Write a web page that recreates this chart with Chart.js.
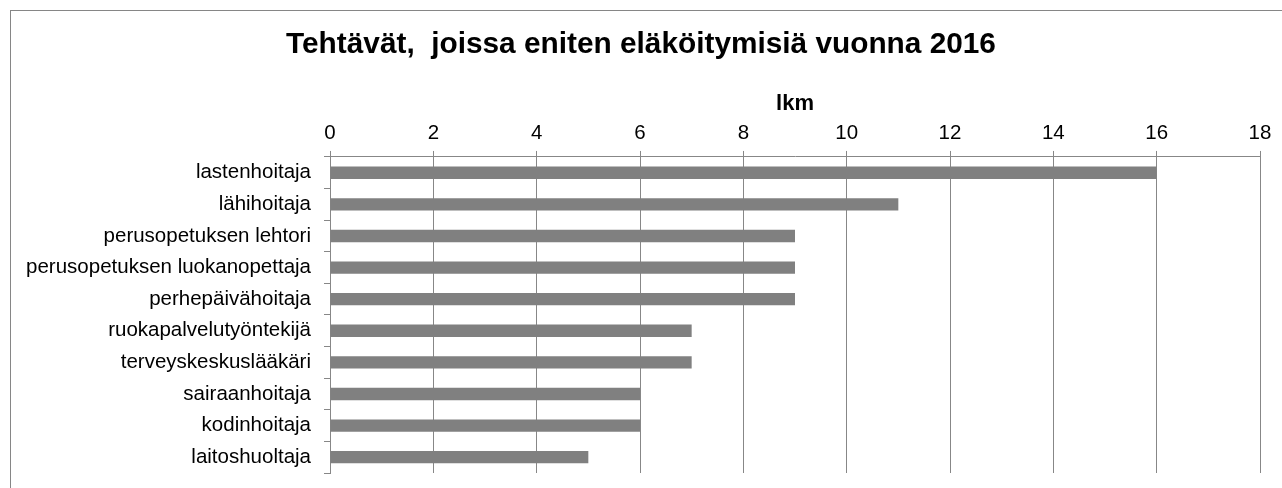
<!DOCTYPE html>
<html>
<head>
<meta charset="utf-8">
<script src="https://cdn.jsdelivr.net/npm/chart.js@4/dist/chart.umd.min.js"></script>
<style>
  html, body { margin: 0; padding: 0; background: #fff; }
  #wrap { position: relative; width: 1282px; height: 488px; overflow: hidden; }
  #frame { position: absolute; left: 10px; top: 10px; width: 1300px; height: 500px; border: 1px solid #868686; box-sizing: border-box; }
  canvas { position: absolute; left: 0; top: 0; }
</style>
</head>
<body>
<div id="wrap">
  <div id="frame"></div>
  <canvas id="c" width="1282" height="488"></canvas>
</div>
<script>
const categories = [
  "lastenhoitaja",
  "lähihoitaja",
  "perusopetuksen lehtori",
  "perusopetuksen luokanopettaja",
  "perhepäivähoitaja",
  "ruokapalvelutyöntekijä",
  "terveyskeskuslääkäri",
  "sairaanhoitaja",
  "kodinhoitaja",
  "laitoshuoltaja"
];
const values = [16, 11, 9, 9, 9, 7, 7, 6, 6, 5];
const titleText = "Tehtävät,  joissa eniten eläköitymisiä vuonna 2016";
const axisTitle = "lkm";
const xMin = 0, xMax = 18, xStep = 2;

const FONT = "Liberation Sans, Arial, sans-serif";
const gridColor = "#878787";
new Chart(document.getElementById("c"), {
  type: "bar",
  data: {
    labels: categories,
    datasets: [{
      data: values,
      backgroundColor: "#808080",
      borderWidth: 0,
      categoryPercentage: 1,
      barPercentage: 0.39
    }]
  },
  options: {
    indexAxis: "y",
    responsive: false,
    animation: false,
    layout: { padding: { top: 0, left: 22, right: 22, bottom: 15 } },
    plugins: {
      legend: { display: false },
      tooltip: { enabled: false },
      title: {
        display: true,
        text: titleText,
        color: "#000",
        font: { family: FONT, size: 29.8, weight: "bold" },
        padding: { top: 26.5, bottom: 0 }
      }
    },
    scales: {
      x: {
        position: "top",
        min: xMin,
        max: xMax,
        ticks: {
          stepSize: xStep,
          color: "#000",
          padding: 5,
          font: { family: FONT, size: 20.5 }
        },
        grid: { color: gridColor, lineWidth: 1, tickLength: 6, drawOnChartArea: true },
        border: { color: gridColor, width: 1 },
        title: {
          display: true,
          text: axisTitle,
          color: "#000",
          font: { family: FONT, size: 22, weight: "bold" },
          padding: { top: 28, bottom: 0 }
        },
        afterFit: (s) => { s.height = 94.7; }
      },
      y: {
        ticks: {
          color: "#000",
          padding: 13,
          font: { family: FONT, size: 20.5 }
        },
        grid: { color: gridColor, lineWidth: 1, tickLength: 6, drawOnChartArea: false, offset: true },
        border: { color: gridColor, width: 1 },
        afterFit: (s) => { s.width = 308; s.paddingTop = 0; s.paddingBottom = 0; }
      }
    }
  }
});
</script>
</body>
</html>
